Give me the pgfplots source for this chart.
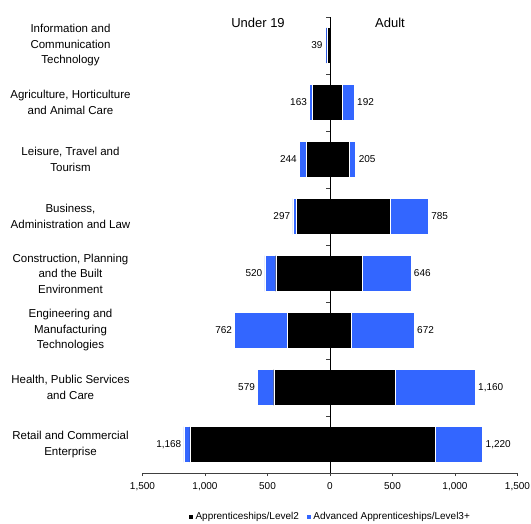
\documentclass[border=0pt]{standalone}
\usepackage{fontspec}
\setmainfont{Liberation Sans}
\usepackage{pgfplots}
\pgfplotsset{compat=1.18}
\usepackage{pgfplotstable}
\definecolor{advblue}{RGB}{51,102,255}

\pgfplotstableread{
y l2 l3 tot ntot
0 -25 -14 39 -39
1 -140 -23 163 -163
2 -190 -54 244 -244
3 -268 -29 297 -297
4 -434 -86 520 -520
5 -340 -422 762 -762
6 -450 -129 579 -579
7 -1120 -48 1168 -1168
}\under

\pgfplotstableread{
y l2 l3 tot
1 95 97 192
2 150 55 205
3 485 300 785
4 255 391 646
5 172 500 672
6 525 635 1160
7 840 380 1220
}\adult

\pgfplotsset{common/.style={
  at={(0,0)}, anchor=south west, scale only axis,
  width=375bp, height=456bp,
  xmin=-1500, xmax=1500, ymin=-0.5, ymax=7.5, y dir=reverse,
  /pgf/number format/1000 sep={,},
  /pgf/number format/assume math mode=true,
}}

\begin{document}
\begin{tikzpicture}
\path[use as bounding box] (-142.5bp,-51bp) rectangle (388.5bp,473bp);
\begin{axis}[common, xbar stacked, bar width=0.63,
  axis x line*=bottom, axis y line*=left,
  y axis line style={draw=none},
  x axis line style={-, draw=black!75, line width=0.6pt},
  xtick={-1500,-1000,...,1500},
  xticklabels={{1,500},{1,000},500,0,500,{1,000},{1,500}},
  xtick align=outside, major tick length=3bp,
  xtick style={draw=black!75, line width=0.6pt},
  xticklabel style={font=\fontsize{10bp}{12bp}\selectfont, yshift=-3bp},
  ytick={0,...,7},
  yticklabels={{Information and\\Communication\\Technology},
    {Agriculture, Horticulture\\and Animal Care},
    {Leisure, Travel and\\Tourism},
    {Business,\\Administration and Law},
    {Construction, Planning\\and the Built\\Environment},
    {Engineering and\\Manufacturing\\Technologies},
    {Health, Public Services\\and Care},
    {Retail and Commercial\\Enterprise}},
  ytick style={draw=none},
  yticklabel style={font=\fontsize{11.5bp}{15.5bp}\selectfont, align=center, anchor=center, xshift=-72bp},
  legend style={at={(axis description cs:0.5,0)}, anchor=center, yshift=-44bp,
    draw=none, fill=none, legend columns=2, inner sep=0pt,
    font=\fontsize{10bp}{12bp}\selectfont,
    /tikz/every even column/.append style={column sep=5bp}},
  legend image code/.code={\fill[#1] (0bp,-2.5bp) rectangle (5bp,2.5bp);},
]
\addplot[fill=black, draw=white, line width=0.5pt] table[x=l2, y=y] \under;
\addplot[fill=advblue, draw=white, line width=0.5pt] table[x=l3, y=y] \under;
\legend{Apprenticeships/Level2, Advanced Apprenticeships/Level3+}
\node[font=\fontsize{13bp}{15bp}\selectfont] at (axis description cs:0.308,0.987) {Under 19};
\node[font=\fontsize{13bp}{15bp}\selectfont] at (axis description cs:0.66,0.987) {Adult};
\end{axis}
\begin{axis}[common, xbar stacked, bar width=0.63,
  axis x line=none, axis y line=middle,
  y axis line style={-, line width=0.8pt},
  ytick={-0.5,0.5,...,7.5}, yticklabels={},
  major tick length=4bp,
  ytick style={xshift=-2bp, line width=0.6pt, draw=black!75},
  axis on top,
]
\addplot[fill=black, draw=white, line width=0.5pt] table[x=l2, y=y] \adult;
\addplot[fill=advblue, draw=white, line width=0.5pt] table[x=l3, y=y] \adult;
\end{axis}
\begin{axis}[common, hide axis]
\addplot[only marks, mark=none, nodes near coords, point meta=explicit,
  nodes near coords style={anchor=east, font=\fontsize{10bp}{12bp}\selectfont, inner sep=2.5bp}]
  table[x=ntot, y=y, meta=tot] \under;
\addplot[only marks, mark=none, nodes near coords, point meta=explicit,
  nodes near coords style={anchor=west, font=\fontsize{10bp}{12bp}\selectfont, inner sep=3bp}]
  table[x=tot, y=y, meta=tot] \adult;
\end{axis}
\end{tikzpicture}
\end{document}
